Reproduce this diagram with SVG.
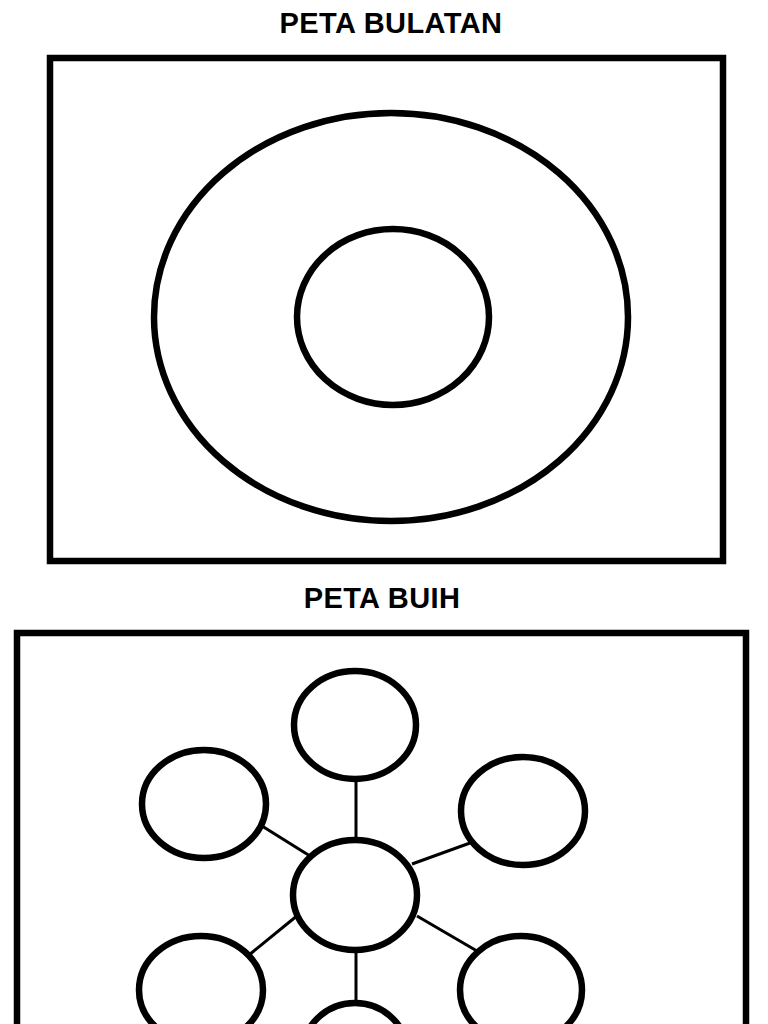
<svg xmlns="http://www.w3.org/2000/svg" width="768" height="1024" viewBox="0 0 768 1024">
<style>
.t{font-family:"Liberation Sans",Arial,sans-serif;font-weight:bold;font-size:29px;letter-spacing:0.4px;fill:#000;text-anchor:middle}
.f{fill:none;stroke:#000;stroke-width:6.5}
.b{fill:#fff;stroke:#000;stroke-width:6.5}
.c{stroke:#000;stroke-width:3;fill:none}
</style>
<rect width="768" height="1024" fill="#fff"/>
<g id="peta-bulatan">
<text class="t" x="391" y="33">PETA BULATAN</text>
<rect id="frame1" class="f" x="50" y="58" width="673" height="503"/>
<ellipse id="outer" class="f" cx="391" cy="317" rx="237" ry="204"/>
<ellipse id="inner" class="f" cx="393" cy="317" rx="96" ry="88"/>
</g>
<g id="peta-buih">
<text class="t" x="382" y="608">PETA BUIH</text>
<rect id="frame2" class="f" x="17" y="633" width="729" height="420"/>
<g id="connectors">
<line class="c" x1="356" y1="780" x2="356" y2="840"/>
<line class="c" x1="262" y1="826" x2="310" y2="856"/>
<line class="c" x1="412" y1="864" x2="470" y2="843"/>
<line class="c" x1="298" y1="915" x2="249" y2="955"/>
<line class="c" x1="417" y1="916" x2="477" y2="951"/>
<line class="c" x1="356" y1="951" x2="356" y2="1004"/>
</g>
<g id="n-top"><ellipse class="b" cx="355" cy="725" rx="61" ry="54"/></g>
<g id="n-ul"><ellipse class="b" cx="204" cy="804" rx="62" ry="54"/></g>
<g id="n-ur"><ellipse class="b" cx="523" cy="811" rx="62" ry="54"/></g>
<g id="n-center"><ellipse class="b" cx="355" cy="895" rx="62" ry="55"/></g>
<g id="n-ll"><ellipse class="b" cx="201" cy="990" rx="62" ry="54"/></g>
<g id="n-lr"><ellipse class="b" cx="521" cy="990" rx="61" ry="54"/></g>
<g id="n-bottom"><ellipse class="b" cx="355" cy="1055" rx="53" ry="52"/></g>
</g>
</svg>
